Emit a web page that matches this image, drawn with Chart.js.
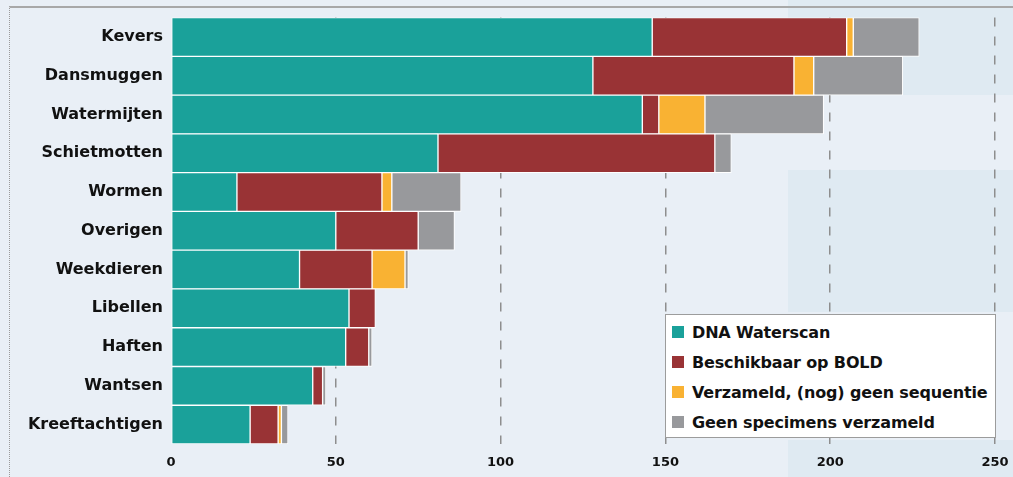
<!DOCTYPE html>
<html>
<head>
<meta charset="utf-8">
<script src="https://cdn.jsdelivr.net/npm/chart.js@4.4.1/dist/chart.umd.min.js"></script>
<style>
    html, body { margin: 0; padding: 0; }
    #wrap {
        position: relative;
        width: 1013px;
        height: 477px;
        overflow: hidden;
        background:
            linear-gradient(#dfeaf2, #dfeaf2) 788px 0 / 225px 95px no-repeat,
            linear-gradient(#dfeaf2, #dfeaf2) 788px 170px / 225px 142px no-repeat,
            linear-gradient(#dfeaf2, #dfeaf2) 788px 440px / 225px 37px no-repeat,
            #e9eff6;
    }
    #frame {
        position: absolute;
        left: 9px; top: 6px; right: -2px; bottom: -2px;
        border-top: 2px solid #a8a8a8;
        border-left: 1px dotted #9a9a9a;
    }
    #chart { position: absolute; left: 0; top: 0; }
    #legend {
        position: absolute;
        left: 665px; top: 314px;
        width: 329px; height: 120px;
        background: #fff;
        border: 1.5px solid #9c9c9c;
        font: bold 16px "DejaVu Sans", sans-serif;
        letter-spacing: -0.15px;
        color: #111;
        padding-top: 2px;
    }
    .legend-item {
        display: flex;
        align-items: center;
        height: 30px;
        padding-left: 6px;
    }
    .legend-box {
        width: 12px; height: 12px;
        margin-right: 8px;
        flex: none;
    }
</style>
</head>
<body>
<div id="wrap">
    <div id="frame"></div>
    <canvas id="chart" width="1013" height="477"></canvas>
    <div id="legend"></div>
</div>
<script>
// ===== DATA =====
const categories = ['Kevers', 'Dansmuggen', 'Watermijten', 'Schietmotten', 'Wormen', 'Overigen',
    'Weekdieren', 'Libellen', 'Haften', 'Wantsen', 'Kreeftachtigen'];
const seriesNames = ['DNA Waterscan', 'Beschikbaar op BOLD', 'Verzameld, (nog) geen sequentie', 'Geen specimens verzameld'];
const dnaWaterscan = [146, 128, 143, 81, 20, 50, 39, 54, 53, 43, 24];
const beschikbaarBold = [59, 61, 5, 84, 44, 25, 22, 8, 7, 3, 8.5];
const verzameld = [2, 6, 14, 0, 3, 0, 10, 0, 0, 0, 1];
const geenSpecimens = [20, 27, 36, 5, 21, 11, 1, 0, 1, 1, 2];
const xTicks = [0, 50, 100, 150, 200, 250];

const COLORS = ['#1aa19a', '#993335', '#f9b233', '#98999c'];
const FONT = '"DejaVu Sans", sans-serif';

// ===== CHART =====
const seriesData = [dnaWaterscan, beschikbaarBold, verzameld, geenSpecimens];

const datasets = seriesData.map((values, i) => ({
    label: seriesNames[i],
    data: values,
    backgroundColor: COLORS[i],
    borderColor: '#ffffff',
    borderWidth: 1,
    borderSkipped: false,
    barPercentage: 1,
    categoryPercentage: 1
}));

new Chart(document.getElementById('chart'), {
    type: 'bar',
    data: { labels: categories, datasets: datasets },
    options: {
        indexAxis: 'y',
        responsive: false,
        animation: false,
        layout: { padding: { left: 0, top: 13, right: 18, bottom: 0 } },
        plugins: {
            legend: { display: false },
            tooltip: { enabled: false }
        },
        scales: {
            x: {
                stacked: true,
                min: 0,
                max: 250,
                afterBuildTicks: axis => { axis.ticks = xTicks.map(v => ({ value: v })); },
                afterFit: axis => {
                    axis.height = 33;
                    axis.paddingRight = 0; // let layout padding decide the right edge
                },
                grid: {
                    drawTicks: false,
                    color: ctx => ctx.tick && ctx.tick.value === 0 ? 'rgba(0,0,0,0)' : '#8e8e8e',
                    lineWidth: 1.5
                },
                border: { display: false, dash: [9, 10] },
                ticks: {
                    padding: 11,
                    color: '#111',
                    font: { family: FONT, weight: 'bold', size: 13 }
                }
            },
            y: {
                stacked: true,
                afterFit: axis => { axis.width = 171; },
                grid: { display: false, drawTicks: false },
                border: { display: false },
                ticks: {
                    padding: 8,
                    color: '#111',
                    font: { family: FONT, weight: 'bold', size: 16 }
                }
            }
        }
    }
});

// ===== LEGEND =====
const legend = document.getElementById('legend');
seriesNames.forEach((name, i) => {
    const item = document.createElement('div');
    item.className = 'legend-item';
    const box = document.createElement('span');
    box.className = 'legend-box';
    box.style.background = COLORS[i];
    const text = document.createElement('span');
    text.textContent = name;
    item.appendChild(box);
    item.appendChild(text);
    legend.appendChild(item);
});
</script>
</body>
</html>
